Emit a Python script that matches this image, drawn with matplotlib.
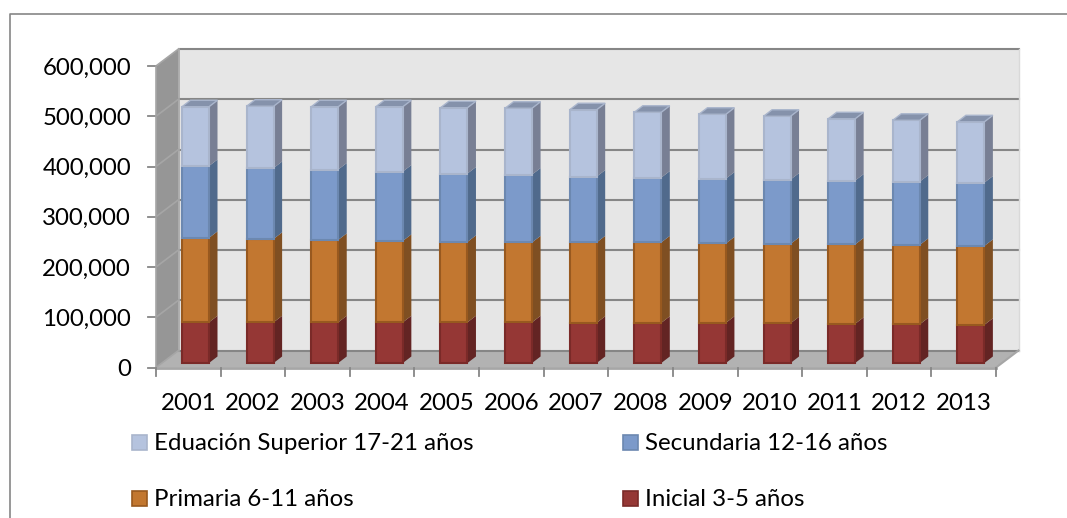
import numpy as np
import matplotlib
matplotlib.use("Agg")
import matplotlib.pyplot as plt
from matplotlib.patches import Polygon, Rectangle

plt.rcParams['font.family'] = ['Lato', 'DejaVu Sans']

years = ['2001', '2002', '2003', '2004', '2005', '2006', '2007',
         '2008', '2009', '2010', '2011', '2012', '2013']
inicial = [81, 81, 81, 81, 81, 81, 80, 80, 80, 79, 78, 77, 76]
primaria = [168, 166, 164, 162, 160, 159, 160, 160, 158, 158, 158, 158, 157]
secundaria = [143, 141, 140, 138, 136, 135, 131, 129, 129, 128, 127, 126, 126]
superior = [118, 123, 125, 129, 131, 132, 133, 130, 128, 126, 123, 122, 121]
y_ticks = [0, 100000, 200000, 300000, 400000, 500000, 600000]

series = [np.array(inicial) * 1000, np.array(primaria) * 1000,
          np.array(secundaria) * 1000, np.array(superior) * 1000]
# front, side, top, edge
colors = [('#953735', '#632423', '#632423', '#7a2a28'),
          ('#c27730', '#7f4f22', '#7f4f22', '#98591f'),
          ('#7c9aca', '#506a8c', '#506a8c', '#6c88b0'),
          ('#b5c3de', '#787f94', '#8592ab', '#a9b5cc')]

W, H = 1067, 518
fig = plt.figure(figsize=(W / 100, H / 100), dpi=100)
# axes box = front plane of the 3d chart, in pixels
x0, x1, y0, y1 = 156, 996, 367.5, 66
ax = fig.add_axes([x0 / W, 1 - y0 / H, (x1 - x0) / W, (y0 - y1) / H])
ax.set_xlim(0, len(years))
ax.set_ylim(0, 600000)
ax.axis('off')
ax.patch.set_alpha(0)

px_x = len(years) / (x1 - x0)
px_y = 600000 / (y0 - y1)
dx, dy = 22.5 * px_x, 17 * px_y    # depth of the whole chart
bdx, bdy = 8.5 * px_x, 6.5 * px_y  # depth of a bar
top = 600000


def poly(pts, fc, z=1, ec='none', lw=0):
    ax.add_patch(Polygon(pts, closed=True, fc=fc, ec=ec, lw=lw, zorder=z, clip_on=False))


# back wall, side wall, floor
poly([(dx, dy), (13 + dx, dy), (13 + dx, top + dy), (dx, top + dy)], '#e6e6e6', 1)
poly([(0, 0), (dx, dy), (dx, top + dy), (0, top)], '#969696', 1)
poly([(0, 0), (13, 0), (13 + dx, dy), (dx, dy)], '#b2b2b2', 1)

# gridlines on the wall and the side
for t in y_ticks:
    ax.plot([dx, 13 + dx], [t + dy, t + dy], color='#868686', lw=1.5, zorder=2, clip_on=False)
    ax.plot([0, dx], [t, t + dy], color='#a6a6a6', lw=1.2, zorder=2, clip_on=False)
    ax.plot([-8 * px_x, 0], [t, t], color='#868686', lw=1.3, zorder=2, clip_on=False)
    ax.text(-25 * px_x, t - 2 * px_y, format(t, ','), ha='right', va='center', fontsize=17.3)
ax.plot([dx, dx], [dy, top + dy], color='#a6a6a6', lw=1.2, zorder=2, clip_on=False)
ax.plot([13 + dx, 13 + dx], [dy, top + dy], color='#d9d9d9', lw=1, zorder=2, clip_on=False)
ax.plot([0, 0], [0, top], color='#a6a6a6', lw=1.2, zorder=2, clip_on=False)

# x axis
ax.plot([0, 13], [0, 0], color='#a6a6a6', lw=2, zorder=2, clip_on=False)
ax.plot([13, 13 + dx], [0, dy], color='#a6a6a6', lw=1.5, zorder=2, clip_on=False)
for i in range(len(years) + 1):
    ax.plot([i, i], [0, -8 * px_y], color='#868686', lw=1.3, zorder=2, clip_on=False)
for i, lab in enumerate(years):
    ax.text(i + 0.5, -35.5 * px_y, lab, ha='center', va='center', fontsize=17.3)

# bars, back to front within a column
bw = 27 * px_x
base = 4.5 * px_y
for i in range(len(years)):
    left = i + 26 * px_x
    bottom = base
    for k, vals in enumerate(series):
        h = vals[i]
        fc, side, topc, edge = colors[k]
        z = 3 + k * 0.1
        poly([(left + bw, bottom), (left + bw + bdx, bottom + bdy),
              (left + bw + bdx, bottom + h + bdy), (left + bw, bottom + h)], side, z)
        ax.bar(left, h, bw, bottom=bottom, align='edge', color=fc, ec=edge, lw=1.5, zorder=z + 0.01)
        bottom += h
    fc, side, topc, edge = colors[-1]
    poly([(left, bottom), (left + bw, bottom), (left + bw + bdx, bottom + bdy),
          (left + bdx, bottom + bdy)], topc, 4, ec=edge, lw=1)

# legend, drawn by hand in the layout of the original
legend = [('Eduación Superior 17-21 años', 3, 132, 442),
          ('Secundaria 12-16 años', 2, 623, 442),
          ('Primaria 6-11 años', 1, 132, 498),
          ('Inicial 3-5 años', 0, 623, 498)]
for name, k, lx, ly in legend:
    fig.add_artist(Rectangle((lx / W, 1 - (ly + 8) / H), 15 / W, 15 / H, transform=fig.transFigure,
                             fc=colors[k][0], ec=colors[k][3], lw=1.2))
    fig.text((lx + 22) / W, 1 - (ly + 1) / H, name, ha='left', va='center', fontsize=17.3)

# outer frame
fig.add_artist(plt.Line2D([9.5 / W, 9.5 / W, 1], [0, 1 - 13.5 / H, 1 - 13.5 / H],
                          color='#868686', lw=1.2))

fig.savefig('out.png', dpi=100)
